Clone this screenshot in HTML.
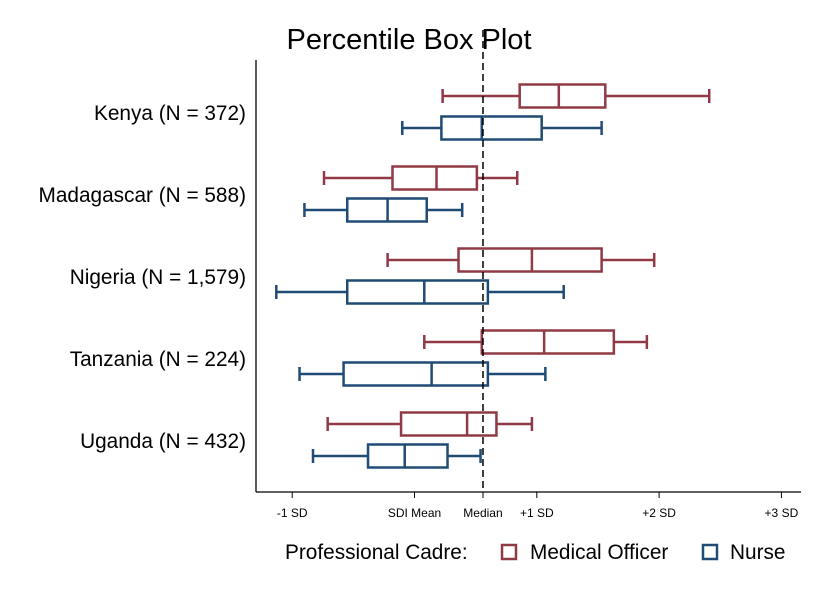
<!DOCTYPE html>
<html><head><meta charset="utf-8"><style>
body{margin:0;background:#fff;}
svg{display:block;font-family:"Liberation Sans",Arial,sans-serif;}
</style></head><body>
<svg id="chart" width="825" height="600">
<rect width="825" height="600" fill="#fff"/>
<text x="409" y="49" font-size="29" text-anchor="middle">Percentile Box Plot</text>
<g id="plot"></g>
<g>
<text x="285" y="559" font-size="20.8">Professional Cadre:</text>
<g><rect x="502" y="545" width="14" height="14" fill="none" stroke="#8f3a44" stroke-width="2.5"/><text x="530" y="559" font-size="20.8">Medical Officer</text></g>
<g><rect x="703" y="545" width="14" height="14" fill="none" stroke="#1f4b75" stroke-width="2.5"/><text x="730" y="559" font-size="20.8">Nurse</text></g>
</g>
</svg>
<script>
const countries=["Kenya (N = 372)","Madagascar (N = 588)","Nigeria (N = 1,579)","Tanzania (N = 224)","Uganda (N = 432)"];
// [min, q1, median, q3, max] in SD units relative to SDI mean
const moStats=[[0.23,0.86,1.18,1.56,2.41],[-0.74,-0.18,0.18,0.51,0.84],[-0.22,0.36,0.96,1.53,1.96],[0.08,0.55,1.06,1.63,1.90],[-0.71,-0.11,0.43,0.67,0.96]];
const nurseStats=[[-0.10,0.22,0.55,1.04,1.53],[-0.90,-0.55,-0.22,0.10,0.39],[-1.13,-0.55,0.08,0.60,1.22],[-0.94,-0.58,0.14,0.60,1.07],[-0.83,-0.38,-0.08,0.27,0.54]];
const tickValues=[-1,0,0.56,1,2,3];
const tickLabels=["-1 SD","SDI Mean","Median","+1 SD","+2 SD","+3 SD"];
const medianValue=0.56;
const NS="http://www.w3.org/2000/svg";
const g=document.getElementById('plot');
const x=v=>414.5+v*122.3;
const yc=i=>113+i*82;
function mk(t,a,p){const e=document.createElementNS(NS,t);for(const k in a)e.setAttribute(k,a[k]);(p||g).appendChild(e);return e;}
const ax=mk('line',{x1:256,y1:60,x2:256,y2:492,stroke:'#000','stroke-width':1.3});


const xa=mk('line',{x1:256,y1:492,x2:801,y2:492,stroke:'#000','stroke-width':1.3});


tickValues.forEach((v,i)=>{
 const t=mk('line',{x1:x(v),y1:492,x2:x(v),y2:498,stroke:'#000','stroke-width':1});
 
 
 const l=mk('text',{x:x(v),y:517,'font-size':12,'text-anchor':'middle'});
 l.textContent=tickLabels[i];
 
 
});
countries.forEach((c,i)=>{
 const l=mk('text',{x:246,y:yc(i)+7,'font-size':20.8,'text-anchor':'end'});
 l.textContent=c;
 
 
});
function box(s,cy,col,name){
 const gr=mk('g',{stroke:col,'stroke-width':2.5,fill:'none'});
 
 
 const h=11.5;
 mk('line',{x1:x(s[0]),y1:cy,x2:x(s[1]),y2:cy},gr);
 mk('line',{x1:x(s[3]),y1:cy,x2:x(s[4]),y2:cy},gr);
 mk('line',{x1:x(s[0]),y1:cy-7,x2:x(s[0]),y2:cy+7},gr);
 mk('line',{x1:x(s[4]),y1:cy-7,x2:x(s[4]),y2:cy+7},gr);
 mk('rect',{x:x(s[1]),y:cy-h,width:x(s[3])-x(s[1]),height:2*h,fill:'#fff'},gr);
 mk('line',{x1:x(s[2]),y1:cy-h,x2:x(s[2]),y2:cy+h},gr);
}
countries.forEach((c,i)=>{
 box(moStats[i],yc(i)-17,'#8f3a44','box-medical-officer');
 box(nurseStats[i],yc(i)+15,'#1f4b75','box-nurse');
});
const ml=mk('line',{x1:x(medianValue),y1:30,x2:x(medianValue),y2:492,stroke:'#000','stroke-width':1.5,'stroke-dasharray':'7,4'});


</script>
</body></html>
